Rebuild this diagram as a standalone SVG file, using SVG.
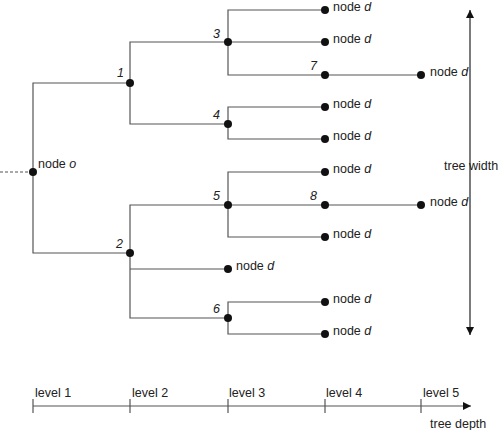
<svg xmlns="http://www.w3.org/2000/svg" width="499" height="430" viewBox="0 0 499 430">
  <defs>
    <style>
      .ln { stroke: #555; stroke-width: 1.2; fill: none; }
      .ax { stroke: #222; stroke-width: 1.2; fill: none; }
      .dot { fill: #111; }
      text { font-family: "Liberation Sans", Arial, sans-serif; font-size: 12.5px; fill: #222; }
      .num { font-style: italic; }
      .it { font-style: italic; }
    </style>
    <marker id="tri" viewBox="0 0 10 10" refX="10" refY="5" markerWidth="8" markerHeight="8" markerUnits="userSpaceOnUse" orient="auto">
      <path d="M0,0 L10,5 L0,10 Z" fill="#111"/>
    </marker>
  </defs>
  <rect width="499" height="430" fill="#fff"/>

  <!-- connectors -->
  <g id="connectors">
    <line class="ln" x1="0" y1="172" x2="33" y2="172" stroke-dasharray="3,2"/>
    <polyline class="ln" points="130,83 33,83 33,253 130,253"/>
    <polyline class="ln" points="228,42 130,42 130,124 228,124"/>
    <polyline class="ln" points="228,205 130,205 130,318 228,318"/>
    <line class="ln" x1="130" y1="269" x2="228" y2="269"/>
    <polyline class="ln" points="325,10 228,10 228,75 325,75"/>
    <line class="ln" x1="228" y1="42" x2="325" y2="42"/>
    <line class="ln" x1="325" y1="75" x2="421" y2="75"/>
    <polyline class="ln" points="325,107 228,107 228,139 325,139"/>
    <polyline class="ln" points="325,172 228,172 228,237 325,237"/>
    <line class="ln" x1="228" y1="205" x2="421" y2="205"/>
    <polyline class="ln" points="325,302 228,302 228,334 325,334"/>
  </g>

  <!-- inner nodes -->
  <g id="node-o"><circle class="dot" cx="33" cy="172" r="4"/><text x="38" y="168">node <tspan class="it">o</tspan></text></g>
  <g id="node-1"><circle class="dot" cx="130" cy="83" r="4"/><text class="num" x="117" y="77">1</text></g>
  <g id="node-2"><circle class="dot" cx="130" cy="253" r="4"/><text class="num" x="116" y="248">2</text></g>
  <g id="node-3"><circle class="dot" cx="228" cy="42" r="4"/><text class="num" x="213" y="38">3</text></g>
  <g id="node-4"><circle class="dot" cx="228" cy="124" r="4"/><text class="num" x="213" y="119">4</text></g>
  <g id="node-5"><circle class="dot" cx="228" cy="205" r="4"/><text class="num" x="213" y="200">5</text></g>
  <g id="node-6"><circle class="dot" cx="228" cy="318" r="4"/><text class="num" x="213" y="313">6</text></g>
  <g id="node-7"><circle class="dot" cx="325" cy="75" r="4"/><text class="num" x="310" y="70">7</text></g>
  <g id="node-8"><circle class="dot" cx="325" cy="205" r="4"/><text class="num" x="310" y="200">8</text></g>

  <!-- leaf nodes -->
  <g id="leaf-1"><circle class="dot" cx="325" cy="10" r="4"/><text x="333" y="11">node <tspan class="it">d</tspan></text></g>
  <g id="leaf-2"><circle class="dot" cx="325" cy="42" r="4"/><text x="333" y="43">node <tspan class="it">d</tspan></text></g>
  <g id="leaf-3"><circle class="dot" cx="421" cy="75" r="4"/><text x="430" y="76">node <tspan class="it">d</tspan></text></g>
  <g id="leaf-4"><circle class="dot" cx="325" cy="107" r="4"/><text x="333" y="108">node <tspan class="it">d</tspan></text></g>
  <g id="leaf-5"><circle class="dot" cx="325" cy="139" r="4"/><text x="333" y="140">node <tspan class="it">d</tspan></text></g>
  <g id="leaf-6"><circle class="dot" cx="325" cy="172" r="4"/><text x="333" y="173">node <tspan class="it">d</tspan></text></g>
  <g id="leaf-7"><circle class="dot" cx="421" cy="205" r="4"/><text x="430" y="206">node <tspan class="it">d</tspan></text></g>
  <g id="leaf-8"><circle class="dot" cx="325" cy="237" r="4"/><text x="333" y="238">node <tspan class="it">d</tspan></text></g>
  <g id="leaf-9"><circle class="dot" cx="228" cy="269" r="4"/><text x="236" y="270">node <tspan class="it">d</tspan></text></g>
  <g id="leaf-10"><circle class="dot" cx="325" cy="302" r="4"/><text x="333" y="303">node <tspan class="it">d</tspan></text></g>
  <g id="leaf-11"><circle class="dot" cx="325" cy="334" r="4"/><text x="333" y="335">node <tspan class="it">d</tspan></text></g>

  <!-- tree width arrow -->
  <g id="tree-width">
    <line class="ax" x1="470" y1="172" x2="470" y2="10" marker-end="url(#tri)"/>
    <line class="ax" x1="470" y1="172" x2="470" y2="335" marker-end="url(#tri)"/>
    <text x="444" y="170">tree width</text>
  </g>

  <!-- depth axis -->
  <g id="depth-axis">
    <line class="ln" x1="33" y1="406" x2="471" y2="406" marker-end="url(#tri)"/>
    <line class="ln" x1="33" y1="399" x2="33" y2="413"/>
    <line class="ln" x1="130" y1="399" x2="130" y2="413"/>
    <line class="ln" x1="228" y1="399" x2="228" y2="413"/>
    <line class="ln" x1="325" y1="399" x2="325" y2="413"/>
    <line class="ln" x1="421" y1="399" x2="421" y2="413"/>
    <text x="35" y="397">level 1</text>
    <text x="132" y="397">level 2</text>
    <text x="229" y="397">level 3</text>
    <text x="326" y="397">level 4</text>
    <text x="423" y="397">level 5</text>
    <text x="430" y="428">tree depth</text>
  </g>
</svg>
